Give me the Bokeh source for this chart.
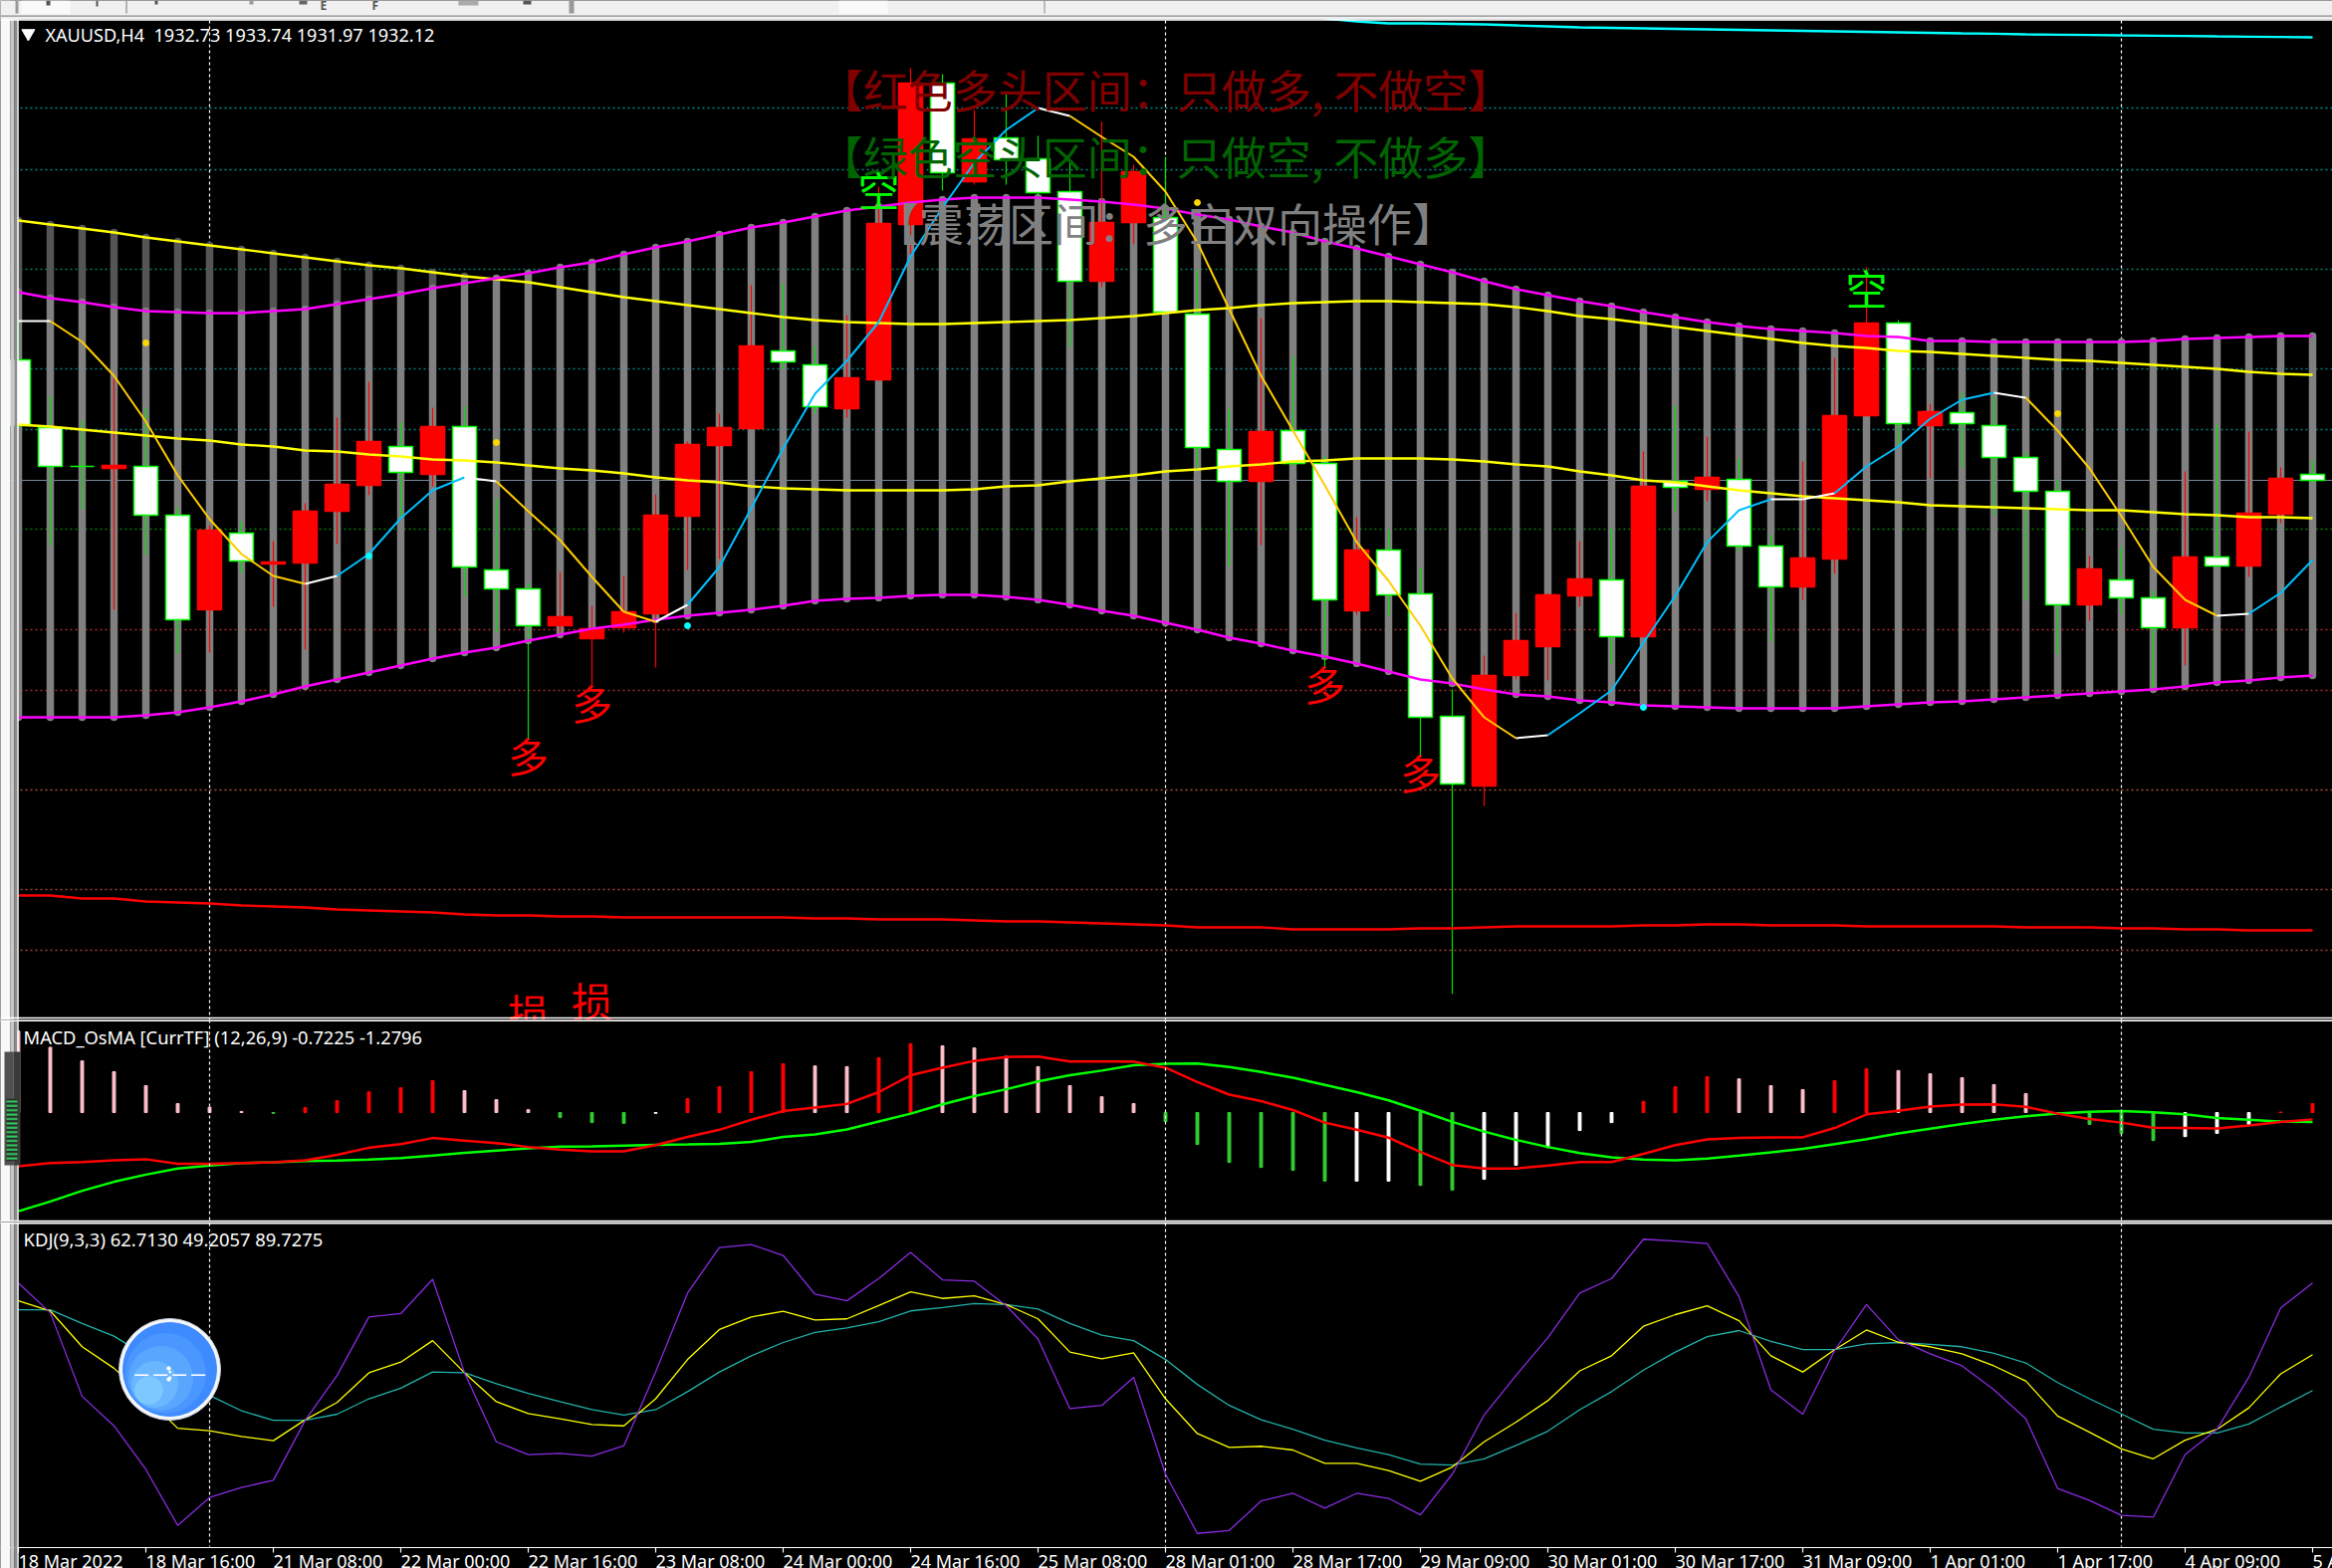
from bokeh.plotting import figure
from bokeh.layouts import column
from bokeh.embed import file_html
from bokeh.resources import INLINE
from bokeh.core.properties import value
from bokeh.models import Range1d, Span, BoxAnnotation, Label

# ---------- price data (XAUUSD, H4) ----------
opens = [1943.9,1937.1,1933.2,1933.0,1933.2,1928.3,1918.8,1926.5,1923.4,1923.5,1928.7,1931.3,1935.2,1932.4,1937.2,1922.8,1920.9,1917.2,1915.9,1917.0,1918.4,1928.2,1935.3,1937.0,1944.8,1943.4,1939.0,1941.9,1957.5,1971.7,1961.8,1966.2,1964.1,1960.8,1951.8,1957.7,1958.2,1948.5,1934.9,1931.7,1936.8,1933.5,1918.7,1924.8,1920.4,1908.1,1901.1,1912.2,1915.1,1920.2,1921.8,1916.1,1931.7,1930.9,1931.9,1925.2,1921.1,1923.9,1938.3,1947.6,1937.3,1938.6,1937.3,1934.1,1930.7,1919.3,1921.8,1920.0,1917.0,1924.1,1923.2,1928.4,1932.4]
highs = [1947.8,1940.3,1937.8,1942.0,1939.1,1929.1,1927.3,1927.7,1925.7,1929.5,1938.1,1941.7,1937.6,1939.1,1939.2,1930.0,1921.5,1922.6,1919.2,1922.2,1930.4,1935.7,1938.5,1951.4,1951.6,1945.3,1948.4,1961.3,1973.2,1972.6,1969.0,1970.7,1966.4,1964.0,1967.8,1963.5,1964.3,1953.0,1939.0,1948.1,1944.3,1934.3,1928.1,1926.8,1923.0,1910.8,1914.2,1918.5,1920.4,1925.7,1927.0,1934.7,1939.3,1936.2,1934.0,1926.3,1933.7,1944.1,1953.2,1947.9,1939.5,1940.6,1940.2,1934.6,1931.9,1924.2,1925.1,1920.7,1932.7,1937.4,1936.7,1933.1,1933.8]
lows = [1937.0,1925.3,1928.9,1918.8,1924.3,1914.4,1914.5,1922.5,1919.1,1914.8,1925.4,1930.3,1928.1,1931.2,1920.1,1916.5,1905.8,1916.5,1911.2,1916.5,1913.0,1922.8,1923.9,1937.0,1943.0,1938.5,1938.1,1941.9,1954.5,1960.9,1961.5,1961.5,1960.0,1945.2,1951.2,1955.5,1948.5,1933.0,1923.2,1925.3,1933.3,1913.0,1918.3,1918.2,1904.1,1880.2,1899.1,1911.8,1911.7,1919.1,1913.3,1916.1,1928.7,1929.7,1924.7,1915.6,1919.8,1922.4,1938.3,1935.3,1932.0,1933.1,1928.3,1919.7,1914.3,1917.7,1918.4,1910.9,1913.2,1923.2,1922.1,1927.5,1931.6]
closes = [1937.3,1933.2,1933.2,1933.3,1928.3,1917.8,1926.8,1923.7,1923.6,1928.7,1931.4,1935.7,1932.6,1937.2,1923.1,1920.9,1917.2,1918.1,1916.9,1918.6,1928.3,1935.4,1937.1,1945.3,1943.7,1939.2,1942.1,1957.6,1971.7,1962.7,1966.1,1964.0,1960.7,1951.8,1957.7,1962.8,1948.7,1935.1,1931.7,1936.7,1933.5,1919.8,1924.8,1920.3,1908.0,1901.3,1912.2,1915.7,1920.3,1921.9,1916.1,1931.2,1931.1,1932.1,1925.2,1921.1,1924.0,1938.3,1947.6,1937.5,1938.7,1937.5,1934.1,1930.7,1919.3,1922.9,1920.0,1917.0,1924.1,1923.2,1928.5,1932.0,1931.8]

band_upper = [1950.7,1950.1,1949.7,1949.2,1948.8,1948.7,1948.6,1948.6,1948.8,1949.0,1949.5,1950.0,1950.5,1951.1,1951.6,1952.1,1952.6,1953.2,1953.7,1954.5,1955.2,1955.8,1956.5,1957.2,1957.7,1958.3,1958.9,1959.3,1959.7,1960.0,1960.2,1960.2,1960.2,1960.0,1959.8,1959.5,1959.1,1958.5,1958.0,1957.3,1956.7,1955.8,1955.1,1954.3,1953.5,1952.7,1951.8,1951.0,1950.4,1949.8,1949.3,1948.7,1948.2,1947.7,1947.3,1947.0,1946.8,1946.6,1946.3,1946.2,1945.8,1945.8,1945.7,1945.7,1945.7,1945.7,1945.7,1945.8,1946.0,1946.1,1946.2,1946.3,1946.3]
band_lower = [1908.0,1908.0,1908.0,1908.0,1908.2,1908.5,1909.0,1909.6,1910.3,1911.1,1911.8,1912.5,1913.2,1913.9,1914.5,1915.0,1915.7,1916.3,1916.9,1917.3,1917.8,1918.2,1918.5,1918.8,1919.2,1919.7,1919.9,1920.0,1920.2,1920.3,1920.3,1920.1,1919.8,1919.3,1918.7,1918.2,1917.5,1916.8,1916.0,1915.4,1914.7,1914.1,1913.4,1912.6,1911.8,1911.4,1910.8,1910.3,1910.1,1909.7,1909.5,1909.2,1909.1,1909.0,1908.9,1908.9,1908.9,1908.9,1909.1,1909.3,1909.5,1909.6,1909.8,1910.0,1910.2,1910.4,1910.6,1910.8,1911.1,1911.5,1911.7,1912.0,1912.2]
yellow_upper = [1957.9,1957.5,1957.1,1956.7,1956.2,1955.8,1955.4,1955.0,1954.6,1954.2,1953.8,1953.4,1953.1,1952.7,1952.3,1952.0,1951.7,1951.2,1950.7,1950.2,1949.8,1949.4,1949.0,1948.6,1948.2,1947.9,1947.7,1947.6,1947.5,1947.5,1947.6,1947.7,1947.8,1947.9,1948.1,1948.3,1948.6,1948.9,1949.1,1949.4,1949.6,1949.7,1949.8,1949.8,1949.7,1949.6,1949.5,1949.2,1948.8,1948.3,1948.0,1947.6,1947.2,1946.8,1946.4,1946.0,1945.6,1945.3,1945.1,1944.8,1944.7,1944.5,1944.3,1944.1,1943.9,1943.8,1943.6,1943.4,1943.2,1943.0,1942.7,1942.5,1942.4]
yellow_lower = [1937.4,1937.2,1936.9,1936.6,1936.3,1936.0,1935.8,1935.4,1935.2,1934.8,1934.7,1934.4,1934.2,1933.9,1933.8,1933.6,1933.3,1933.0,1932.8,1932.5,1932.1,1931.8,1931.6,1931.2,1931.0,1930.9,1930.8,1930.8,1930.8,1930.8,1930.9,1931.2,1931.3,1931.7,1932.0,1932.3,1932.7,1932.9,1933.2,1933.4,1933.7,1933.8,1934.0,1934.0,1934.0,1933.9,1933.7,1933.4,1933.2,1932.7,1932.3,1931.8,1931.6,1931.2,1930.8,1930.5,1930.2,1930.0,1929.8,1929.6,1929.3,1929.2,1929.1,1929.0,1928.9,1928.8,1928.8,1928.6,1928.4,1928.3,1928.1,1928.1,1928.0]
fast_ma = [1947.8,1947.8,1945.7,1942.3,1937.7,1932.3,1927.9,1924.4,1922.2,1921.4,1922.2,1924.4,1928.0,1930.8,1932.1,1931.7,1928.7,1925.8,1922.1,1918.6,1917.6,1919.3,1923.1,1929.0,1935.0,1940.5,1943.8,1947.7,1954.3,1959.2,1963.7,1967.0,1969.2,1968.4,1966.3,1964.3,1960.8,1955.7,1949.0,1942.3,1936.8,1931.3,1925.6,1921.7,1917.2,1911.9,1908.0,1905.9,1906.2,1908.4,1910.7,1915.5,1920.2,1925.6,1928.8,1929.9,1929.9,1930.5,1933.2,1935.2,1938.0,1939.9,1940.6,1940.1,1936.8,1933.0,1928.2,1923.1,1919.8,1918.2,1918.4,1920.5,1923.8]
fast_ma_runs = [(0,1,"white"),(1,9,"#FFCC00"),(9,10,"white"),(10,14,"#00BFFF"),(14,15,"white"),(15,20,"#FFCC00"),(20,21,"white"),(21,32,"#00BFFF"),(32,33,"white"),(33,47,"#FFCC00"),(47,48,"white"),(48,55,"#00BFFF"),(55,57,"white"),(57,62,"#00BFFF"),(62,63,"white"),(63,69,"#FFCC00"),(69,70,"white"),(70,72,"#00BFFF")]
slow_red = [1890.1,1890.1,1889.8,1889.8,1889.5,1889.4,1889.3,1889.1,1889.0,1888.9,1888.7,1888.6,1888.5,1888.4,1888.2,1888.1,1888.1,1888.0,1888.0,1887.9,1887.9,1887.9,1887.9,1887.9,1887.9,1887.8,1887.8,1887.7,1887.7,1887.7,1887.6,1887.5,1887.5,1887.4,1887.3,1887.2,1887.1,1886.9,1886.9,1886.9,1886.7,1886.7,1886.7,1886.7,1886.8,1886.8,1886.9,1887.0,1887.0,1887.0,1887.0,1887.1,1887.1,1887.2,1887.2,1887.1,1887.1,1887.1,1887.0,1887.0,1887.0,1887.0,1887.0,1886.9,1886.9,1886.9,1886.8,1886.8,1886.7,1886.7,1886.6,1886.6,1886.6]
cyan_idx = list(range(41, 73))
cyan_ma = [1978.2,1977.9,1977.7,1977.7,1977.65,1977.6,1977.5,1977.4,1977.3,1977.25,1977.2,1977.15,1977.1,1977.05,1977.0,1976.95,1976.9,1976.85,1976.8,1976.75,1976.7,1976.67,1976.6,1976.57,1976.54,1976.5,1976.47,1976.44,1976.4,1976.37,1976.34,1976.3]

gold_dot_idx = [4, 15, 37, 64]
gold_dot_val = [1945.6, 1935.6, 1959.7, 1938.5]
aqua_dot_idx = [11, 21, 51]
aqua_dot_val = [1924.2, 1917.2, 1909.0]

levels = [1969.2,1963.0,1953.0,1943.0,1936.9,1926.9,1916.8,1910.7,1900.7,1890.7,1884.6]
level_colors = ["#008B8B","#008B8B","#007F66","#008080","#008080","#008000","#A52A2A","#A52A2A","#A0522D","#A0403A","#A0403A"]
bid_level = 1931.8

short_idx = [27, 58]
short_val = [1961.1, 1951.2]
long_idx = [16, 18, 41, 44]
long_val = [1904.3, 1909.6, 1911.5, 1902.6]
stop_idx = [16, 18]
stop_val = [1878.5, 1879.7]

# ---------- MACD pane ----------
hist = [9.08,7.28,5.76,4.56,3.0,1.0,0.6,0.12,-0.08,0.56,1.32,2.32,2.76,3.56,2.44,1.44,0.32,-0.56,-1.12,-1.2,-0.08,1.56,2.88,4.56,5.44,5.2,5.12,6.12,7.68,7.44,7.2,6.28,5.12,3.0,1.76,1.0,-1.0,-3.56,-5.56,-6.12,-6.44,-7.64,-7.64,-7.64,-8.12,-8.64,-7.44,-5.88,-3.92,-2.0,-1.12,1.24,2.88,4.0,3.76,3.0,2.56,3.56,4.88,4.68,4.32,3.88,3.12,2.12,0.0,-1.32,-2.32,-3.12,-2.68,-2.32,-1.32,0.06,1.0]
hist_codes = "PPPPPPPPGRRRRRPPPGGGWRRRRPPRRPPPPPPPGGGGGGWWGGWWWWWRRRPPPRRPPPPPPGGGWWWRR"
macd_red = [-6.0,-5.64,-5.52,-5.32,-5.2,-5.72,-5.72,-5.64,-5.56,-5.32,-4.72,-3.92,-3.52,-2.84,-3.12,-3.4,-3.84,-4.12,-4.32,-4.32,-3.64,-2.72,-1.92,-0.8,0.16,0.56,0.96,2.28,4.16,5.0,5.76,6.2,6.24,5.68,5.68,5.68,5.0,3.4,2.0,1.28,0.28,-1.12,-1.92,-2.8,-4.4,-5.84,-6.24,-6.24,-5.92,-5.52,-5.52,-4.6,-3.64,-3.0,-2.84,-2.76,-2.76,-1.72,-0.2,0.2,0.68,0.88,0.92,0.64,-0.12,-0.72,-1.12,-1.68,-1.72,-1.76,-1.44,-1.04,-0.76]
macd_green = [-11.0,-9.92,-8.72,-7.72,-6.92,-6.24,-5.92,-5.64,-5.56,-5.4,-5.36,-5.24,-5.08,-4.8,-4.48,-4.24,-4.0,-3.8,-3.76,-3.68,-3.6,-3.56,-3.48,-3.28,-2.72,-2.44,-1.88,-1.0,-0.12,0.92,1.84,2.6,3.48,4.16,4.68,5.28,5.44,5.48,5.08,4.52,3.88,3.08,2.28,1.36,0.2,-1.04,-2.12,-3.04,-3.84,-4.52,-5.0,-5.24,-5.32,-5.12,-4.8,-4.44,-4.04,-3.52,-2.96,-2.32,-1.8,-1.28,-0.8,-0.4,-0.12,0.08,0.16,0.04,-0.2,-0.6,-0.8,-1.0,-1.04]

# ---------- KDJ pane ----------
kdj_k = [83.0,79.2,65.7,57.6,46.8,35.0,34.1,31.9,30.3,38.2,44.7,55.9,59.9,68.0,55.9,45.0,40.5,38.6,36.4,35.9,46.1,60.9,72.2,76.9,79.1,75.8,76.2,81.2,86.4,83.9,84.9,81.6,76.2,63.7,61.2,63.4,46.1,33.0,27.8,28.2,26.8,21.8,21.8,19.1,15.0,20.4,29.9,37.3,45.4,56.6,62.3,73.4,77.8,81.1,75.5,62.3,56.2,64.6,72.0,67.4,65.7,63.0,58.5,52.8,39.6,33.5,27.2,23.5,30.5,34.6,42.7,55.5,62.7]
kdj_d = [79.6,79.6,74.5,69.7,62.3,54.2,47.4,41.6,38.0,38.0,40.3,46.1,50.1,56.2,55.9,51.8,48.1,45.0,42.0,40.0,42.0,48.8,56.2,62.3,67.3,71.1,72.8,75.1,79.2,80.5,82.0,81.6,79.9,74.5,70.1,68.0,60.9,51.5,43.6,38.2,34.6,30.5,27.6,25.1,21.5,21.1,23.5,28.5,33.9,42.0,48.8,56.9,63.7,69.5,71.8,67.7,64.6,64.6,66.8,67.3,66.6,65.7,63.2,59.6,52.2,46.1,40.4,34.6,33.2,33.2,36.6,43.0,49.2]
kdj_j = [89.7,78.5,47.0,35.9,19.5,-1.6,8.9,12.7,15.4,38.0,54.9,76.9,78.2,91.1,55.9,29.9,25.1,25.5,24.5,28.4,56.2,85.9,103.1,104.2,100.1,85.5,83.0,91.4,101.2,90.9,90.4,81.2,68.6,42.4,43.6,54.2,17.7,-4.6,-3.5,7.6,10.5,4.9,10.5,8.6,2.4,17.7,40.0,54.9,69.1,85.9,91.4,106.2,105.5,104.6,84.6,49.5,40.3,64.3,81.6,68.4,63.0,58.5,49.5,38.6,12.3,7.8,2.2,1.5,25.1,34.6,54.2,80.3,89.7]

tick_idx = [0,4,8,12,16,20,24,28,32,36,40,44,48,52,56,60,64,68,72]
tick_labels = ["18 Mar 2022","18 Mar 16:00","21 Mar 08:00","22 Mar 00:00","22 Mar 16:00","23 Mar 08:00","24 Mar 00:00","24 Mar 16:00","25 Mar 08:00","28 Mar 01:00","28 Mar 17:00","29 Mar 09:00","30 Mar 01:00","30 Mar 17:00","31 Mar 09:00","1 Apr 01:00","1 Apr 17:00","4 Apr 09:00","5 Apr 01:00"]
grid_idx = [6, 36, 66]

title_main = "XAUUSD,H4\u00a0\u00a01932.73 1933.74 1931.97 1932.12"
title_macd = "MACD_OsMA [CurrTF] (12,26,9) -0.7225 -1.2796"
title_kdj = "KDJ(9,3,3) 62.7130 49.2057 89.7275"
note_red = "【红色多头区间：只做多, 不做空】"
note_green = "【绿色空头区间：只做空, 不做多】"
note_gray = "【震荡区间：多空双向操作】"

idx = list(range(len(closes)))
X_START, X_END = -0.5625, 72.625
UI_FONT = value("Noto Sans")
CJK_FONT = value("Noto Sans CJK SC")
PANEL_GRAY = "#f0f0f0"


def col_x(px):
    # page column -> bar coordinate
    return (px - 18) / 32


def main_y(row):
    # page row -> main pane price
    return 1980 - row / 10


def macd_y(row):
    return (1117.03 - row) * 0.111


def kdj_y(row):
    return 194.05 - 0.375 * (row - 1010)


def pane(height, y0, y1):
    p = figure(width=2342, height=height, output_backend="svg", toolbar_location=None,
               x_range=Range1d(X_START, X_END), y_range=Range1d(y0, y1),
               x_axis_location=None, y_axis_location=None,
               background_fill_color="black", border_fill_color="black",
               min_border=0, min_border_left=0, min_border_right=0,
               min_border_top=0, min_border_bottom=0, outline_line_color=None)
    p.grid.visible = False
    return p


def box(p, x0, x1, y0, y1, color, **kw):
    p.add_layout(BoxAnnotation(left=col_x(x0), right=col_x(x1), bottom=y0, top=y1,
                               fill_color=color, fill_alpha=1, line_color=None, **kw))


def chrome(p, y0, y1):
    box(p, 0, 10, y0, y1, "#f8f8f8")
    box(p, 10, 14, y0, y1, "#c8c8c8")
    box(p, 14, 17, y0, y1, "#8c8c8c")
    p.add_layout(Span(location=col_x(17.5), dimension="height", line_color="white", line_width=1.5))


# ===== main pane =====
main = pane(1024, 1877.6, 1980)
for lvl, col in zip(levels, level_colors):
    main.add_layout(Span(location=lvl, dimension="width", line_color=col, line_width=1.3,
                         line_dash="2 3", level="underlay"))
main.add_layout(Span(location=bid_level, dimension="width", line_color="#778899", line_width=1.2, level="underlay"))
main.segment(grid_idx, [1978.0] * 3, grid_idx, [1877.6] * 3, line_color="white", line_width=1.2, line_dash="3 3")

dark_x = [i for i in idx if yellow_upper[i] > band_upper[i]]
main.segment(dark_x, [band_upper[i] for i in dark_x], dark_x, [yellow_upper[i] for i in dark_x],
             line_color="#555555", line_width=7.5, line_cap="round")
main.segment(idx, band_lower, idx, band_upper, line_color="#808080", line_width=7.5, line_cap="round")

is_up = [c > o for o, c in zip(opens, closes)]
main.segment(idx, lows, idx, highs, line_width=1.2,
             line_color=["#FF0000" if u else "#00E000" for u in is_up])
main.vbar(x=idx, width=0.75, top=[max(o, c) for o, c in zip(opens, closes)],
          bottom=[min(o, c) for o, c in zip(opens, closes)],
          fill_color=["#FF0000" if u else "white" for u in is_up],
          line_color=["#FF0000" if u else "#00FF00" for u in is_up], line_width=1.5)

main.line(idx, slow_red, line_color="#FF0000", line_width=2.3)
main.line(idx, yellow_upper, line_color="#FFFF00", line_width=2.3)
main.line(idx, yellow_lower, line_color="#FFFF00", line_width=2.3)
main.line(idx, band_upper, line_color="#FF00FF", line_width=2.6)
main.line(idx, band_lower, line_color="#FF00FF", line_width=2.6)
main.line(cyan_idx, cyan_ma, line_color="#00FFFF", line_width=2.3)
for a, b, col in fast_ma_runs:
    main.line(idx[a:b + 1], fast_ma[a:b + 1], line_color=col, line_width=2)
main.scatter(gold_dot_idx, gold_dot_val, size=6, color="#FFD700")
main.scatter(aqua_dot_idx, aqua_dot_val, size=6, color="#00FFFF")

main.text(short_idx, short_val, text=["空"] * 2, text_color="#00FF00", text_font=CJK_FONT,
          text_font_size="42px", text_align="center", text_baseline="middle")
main.text(long_idx, long_val, text=["多"] * 4, text_color="#FF0000", text_font=CJK_FONT,
          text_font_size="41px", text_align="center", text_baseline="middle")
main.text(stop_idx, stop_val, text=["损"] * 2, text_color="#FF0000", text_font=CJK_FONT,
          text_font_size="41px", text_align="center", text_baseline="middle")
for note, col, yy in [(note_red, "#800000", 1971.1), (note_green, "#006400", 1964.4), (note_gray, "#808080", 1957.7)]:
    main.text([36], [yy], text=[note], text_color=col, text_font=CJK_FONT, text_font_size="45px",
              text_align="center", text_baseline="middle")

main.scatter([0.31], [1976.7], marker="inverted_triangle", size=13, color="white")
main.text([0.84], [1976.6], text=[title_main], text_color="white", text_font=UI_FONT, text_font_size="18.1px",
          text_align="left", text_baseline="middle")

chrome(main, 1877.6, 1980)
# toolbar strip at the top of the window
box(main, 0, 2342, main_y(19), 1980, PANEL_GRAY)
box(main, 0, 2342, main_y(16.5), main_y(14.8), "#a8a8a8")
box(main, 21, 70, main_y(13.5), 1980, "#f9f9f9")
box(main, 842, 891, main_y(13.5), 1980, "#f9f9f9")
for x0, x1, r1, c in [(15, 18, 13, "#999999"), (46, 50, 5, "#555555"), (96, 98, 6, "#555555"),
                      (126, 127, 13, "#777777"), (155, 158, 4, "#555555"), (250, 254, 4, "#999999"),
                      (300, 308, 4, "#666666"), (460, 480, 5, "#aaaaaa"), (525, 533, 4, "#555555"),
                      (571, 576, 13, "#999999"), (1048, 1049, 13, "#888888")]:
    box(main, x0, x1, main_y(r1), 1980, c)
for txt, x0 in [("E", 321), ("F", 373)]:
    main.add_layout(Label(x=col_x(x0), y=main_y(5), text=txt, text_color="#555555", text_font_size="12px",
                          text_font="Noto Sans", text_font_style="bold", text_baseline="middle"))
main.add_layout(Span(location=main_y(19.5), dimension="width", line_color="white", line_width=1.5))
main.add_layout(Span(location=main_y(1022), dimension="width", line_color="white", line_width=1.5))

# ===== MACD pane =====
macd = pane(203, macd_y(1227), macd_y(1024))
for g in grid_idx:
    macd.add_layout(Span(location=g, dimension="height", line_color="white", line_width=1.2, line_dash="3 3"))
hist_palette = {"P": "#FFC0CB", "R": "#FF0000", "G": "#32CD32", "W": "#FFFFFF"}
macd.vbar(x=idx, width=0.09, top=[max(v, 0) for v in hist], bottom=[min(v, 0) for v in hist],
          color=[hist_palette[c] for c in hist_codes])
macd.line(idx, macd_green, line_color="#00FF00", line_width=2.5)
macd.line(idx, macd_red, line_color="#FF0000", line_width=2.5)
macd.text([0.16], [macd_y(1041)], text=[title_macd], text_color="white", text_font=UI_FONT, text_font_size="18.3px",
          text_align="left", text_baseline="middle")
chrome(macd, macd_y(1227), macd_y(1024))
# scroll handle on the window's left edge
box(macd, 4, 13, macd_y(1170), macd_y(1056), "#505050")
box(macd, 13, 20, macd_y(1170), macd_y(1056), "#3a3a3a")
box(macd, 6, 17, macd_y(1166), macd_y(1103), "#2b2b2b",
    hatch_pattern="horizontal_line", hatch_color="#2ed060", hatch_scale=4.4, hatch_weight=2)
macd.add_layout(Span(location=macd_y(1024.8), dimension="width", line_color="white", line_width=1.5))
macd.add_layout(Span(location=macd_y(1226), dimension="width", line_color="white", line_width=1.5))

# ===== KDJ pane (its frame also holds the time scale, whose labels start at their tick) =====
kdj = pane(348, kdj_y(1575), kdj_y(1227))
kdj.segment(grid_idx, [kdj_y(1228)] * 3, grid_idx, [kdj_y(1553)] * 3,
            line_color="white", line_width=1.2, line_dash="3 3")
kdj.line(idx, kdj_d, line_color="#20B2AA", line_width=1.3)
kdj.line(idx, kdj_k, line_color="#FFFF00", line_width=1.3)
kdj.line(idx, kdj_j, line_color="#8A2BE2", line_width=1.3)
kdj.text([0.16], [kdj_y(1243.5)], text=[title_kdj], text_color="white", text_font=UI_FONT, text_font_size="18.4px",
         text_align="left", text_baseline="middle")
# clock button
cx, cy = col_x(170), kdj_y(1375)
kdj.scatter([cx], [cy], size=102, color="#f4f6fb", line_color="#c8d0dc", line_width=1)
for size, off, col in [(94, 0, "#3d8bff"), (80, 4, "#4a97ff"), (64, 9, "#59a6ff"), (46, 15, "#6ab6ff"), (28, 21, "#7cc8ff")]:
    kdj.scatter([cx - off / 32], [cy - off * 0.375], size=size, color=col)
kdj.text([cx], [kdj_y(1378)], text=["— —:— —"], text_color="white", text_font=UI_FONT, text_font_size="15px",
         text_font_style="bold", text_align="center", text_baseline="middle")
kdj.scatter([col_x(169), col_x(169)], [kdj_y(1374), kdj_y(1385)], size=3.5, color="white")

# time scale
kdj.add_layout(Span(location=kdj_y(1554), dimension="width", line_color="white", line_width=1.2))
kdj.segment(tick_idx, [kdj_y(1554)] * len(tick_idx), tick_idx, [kdj_y(1559)] * len(tick_idx),
            line_color="white", line_width=1.2)
kdj.text(tick_idx, [kdj_y(1567)] * len(tick_idx), text=tick_labels, text_color="white", text_font=UI_FONT,
         text_font_size="18px", text_align="left", text_baseline="middle")
chrome(kdj, kdj_y(1575), kdj_y(1227))
kdj.add_layout(Span(location=kdj_y(1228.3), dimension="width", line_color="white", line_width=1.5))

page = column(main, macd, kdj, spacing=0)
open("out.html", "w").write(file_html(page, INLINE))
